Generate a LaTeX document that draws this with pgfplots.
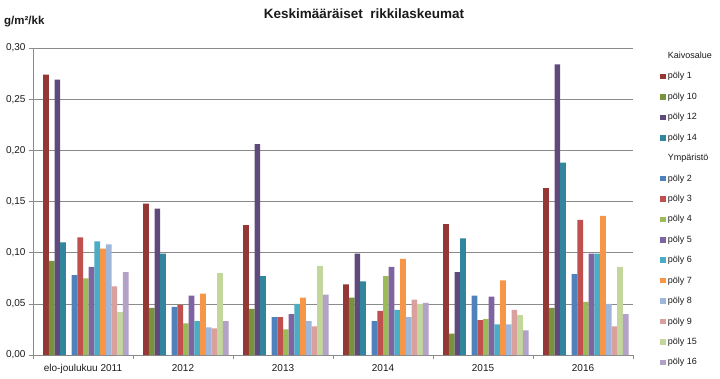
\documentclass[border=0pt]{standalone}
\usepackage{pgfplots}
\pgfplotsset{compat=1.18}
\usepackage{pgfplotstable}
\usepackage{fontspec}
\setmainfont{Liberation Sans}
\definecolor{c1}{HTML}{953735}
\definecolor{c10}{HTML}{77933C}
\definecolor{c12}{HTML}{604A7B}
\definecolor{c14}{HTML}{31859C}
\definecolor{c2}{HTML}{4F81BD}
\definecolor{c3}{HTML}{C0504D}
\definecolor{c4}{HTML}{9BBB59}
\definecolor{c5}{HTML}{8064A2}
\definecolor{c6}{HTML}{4BACC6}
\definecolor{c7}{HTML}{F79646}
\definecolor{c8}{HTML}{9DB6D9}
\definecolor{c9}{HTML}{D9A09E}
\definecolor{c15}{HTML}{C3D69B}
\definecolor{c16}{HTML}{B3A2C7}
\definecolor{gridc}{HTML}{8A8A8A}
\definecolor{txt}{HTML}{1A1A1A}
\pgfplotsset{sq/.style={fill=#1, draw=none, legend image code/.code={\fill[#1] (0pt,-2.8pt) rectangle (5.6pt,2.8pt);}}}
\pgfplotstableread{
x p1 p10 p12 p14 p2 p3 p4 p5 p6 p7 p8 p9 p15 p16
0 0.274 0.092 0.269 0.110 0.078 0.115 0.075 0.086 0.111 0.104 0.108 0.067 0.042 0.081
1 0.148 0.046 0.143 0.099 0.047 0.049 0.031 0.058 0.033 0.060 0.027 0.026 0.080 0.033
2 0.127 0.045 0.206 0.077 0.037 0.037 0.025 0.040 0.050 0.056 0.033 0.028 0.087 0.059
3 0.069 0.056 0.099 0.072 0.033 0.043 0.077 0.086 0.044 0.094 0.037 0.054 0.050 0.051
4 0.128 0.021 0.081 0.114 0.058 0.034 0.035 0.057 0.030 0.073 0.030 0.044 0.039 0.024
5 0.163 0.046 0.284 0.188 0.079 0.132 0.052 0.099 0.099 0.136 0.050 0.028 0.086 0.040
}\datatable
\begin{document}
\begin{tikzpicture}
\useasboundingbox (0,0) rectangle (720pt,378pt);
\begin{axis}[
  at={(33pt,23pt)}, anchor=south west,
  width=600pt, height=307pt, scale only axis,
  ybar, bar width=0.057,
  xmin=-0.5, xmax=5.5, ymin=0, ymax=0.30,
  xtick={-0.5,0.5,...,5.5}, xticklabels={},
  extra x ticks={0,1,2,3,4,5},
  extra x tick labels={elo-joulukuu 2011,2012,2013,2014,2015,2016},
  extra x tick style={major tick length=0pt, xticklabel style={yshift=-6pt}},
  ytick={0,0.05,0.1,0.15,0.2,0.25,0.3},
  yticklabel style={/pgf/number format/.cd, fixed, fixed zerofill, precision=2, use comma, assume math mode=true},
  tick label style={font=\fontsize{10}{11}\selectfont, text=txt},
  major tick length=4pt,
  tick align=outside,
  tick style={gridc, line width=0.6pt},
  ymajorgrids,
  grid style={gridc, line width=0.6pt},
  axis lines*=left,
  axis line style={-, gridc, line width=0.6pt},
  legend style={at={(axis description cs:1.045,0.994)}, anchor=north west, draw=none, fill=none,
    font=\fontsize{9}{10}\selectfont, text=txt, row sep=8.4pt, inner sep=0pt},
  legend cell align=left,
]
\addlegendimage{empty legend}\addlegendentry{Kaivosalue}
\addplot[sq=c1, bar shift=-0.3705] table[x=x,y=p1] {\datatable}; \addlegendentry{pöly 1}
\addplot[sq=c10, bar shift=-0.3135] table[x=x,y=p10] {\datatable}; \addlegendentry{pöly 10}
\addplot[sq=c12, bar shift=-0.2565] table[x=x,y=p12] {\datatable}; \addlegendentry{pöly 12}
\addplot[sq=c14, bar shift=-0.1995] table[x=x,y=p14] {\datatable}; \addlegendentry{pöly 14}
\addlegendimage{empty legend}\addlegendentry{Ympäristö}
\addplot[sq=c2, bar shift=-0.0855] table[x=x,y=p2] {\datatable}; \addlegendentry{pöly 2}
\addplot[sq=c3, bar shift=-0.0285] table[x=x,y=p3] {\datatable}; \addlegendentry{pöly 3}
\addplot[sq=c4, bar shift=0.0285] table[x=x,y=p4] {\datatable}; \addlegendentry{pöly 4}
\addplot[sq=c5, bar shift=0.0855] table[x=x,y=p5] {\datatable}; \addlegendentry{pöly 5}
\addplot[sq=c6, bar shift=0.1425] table[x=x,y=p6] {\datatable}; \addlegendentry{pöly 6}
\addplot[sq=c7, bar shift=0.1995] table[x=x,y=p7] {\datatable}; \addlegendentry{pöly 7}
\addplot[sq=c8, bar shift=0.2565] table[x=x,y=p8] {\datatable}; \addlegendentry{pöly 8}
\addplot[sq=c9, bar shift=0.3135] table[x=x,y=p9] {\datatable}; \addlegendentry{pöly 9}
\addplot[sq=c15, bar shift=0.3705] table[x=x,y=p15] {\datatable}; \addlegendentry{pöly 15}
\addplot[sq=c16, bar shift=0.4275] table[x=x,y=p16] {\datatable}; \addlegendentry{pöly 16}
\end{axis}
\node[font=\bfseries\fontsize{13.5}{15}\selectfont, text=txt] at (364pt,364pt) {Keskimääräiset\ \ rikkilaskeumat};
\node[font=\bfseries\fontsize{11.5}{13}\selectfont, text=txt, anchor=west, inner sep=0pt] at (4pt,356pt) {g/m²/kk};
\end{tikzpicture}
\end{document}
